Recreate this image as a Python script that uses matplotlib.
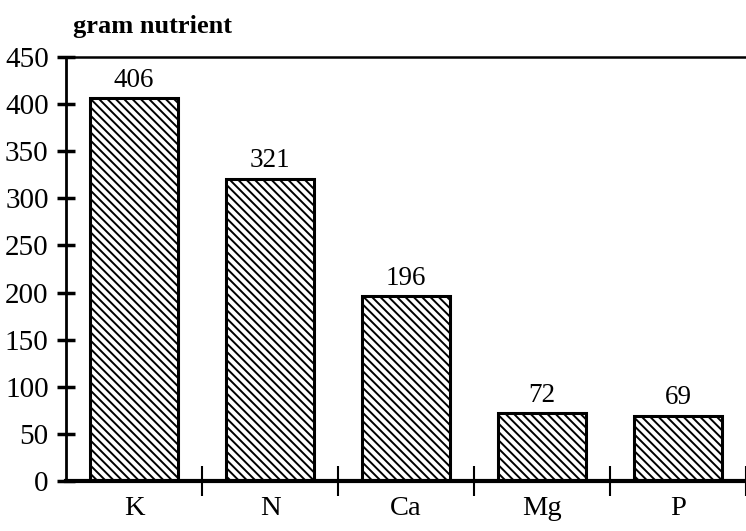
import matplotlib
matplotlib.use("Agg")
import matplotlib.pyplot as plt
import numpy as np

categories = ["K", "N", "Ca", "Mg", "P"]
values = [406, 321, 196, 72, 69]
yticks = [0, 50, 100, 150, 200, 250, 300, 350, 400, 450]
ylabel = "gram nutrient"

plt.rcParams['font.family'] = ['Liberation Serif', 'DejaVu Serif']
plt.rcParams['hatch.linewidth'] = 1.4

W, H = 746, 531
fig = plt.figure(figsize=(W / 100, H / 100), dpi=100)
left, bottom, top = 66 / W, 50 / H, 474 / H
ax = fig.add_axes([left, bottom, 1 - left, top - bottom])

x = np.arange(len(categories))
bars = ax.bar(x, values, width=0.645, facecolor='white', edgecolor='black',
              linewidth=2.2, hatch='\\\\\\\\')

for xi, v in zip(x, values):
    ax.text(xi, v + 6, str(v), ha='center', va='bottom', fontsize=19.5)

ax.set_ylim(0, 450)
ax.set_xlim(-0.5, -0.5 + (W - 66) / 137.0)
ax.set_yticks(yticks)
ax.set_yticklabels([str(t) for t in yticks], fontsize=21)

bounds = np.arange(0.5, len(categories) - 0.5 + 0.01, 1.0)
ax.set_xticks(bounds)
ax.set_xticklabels([])
ax.set_xticks(x, minor=True)
ax.set_xticklabels(categories, minor=True, fontsize=20.5)
ax.tick_params(axis='x', which='major', direction='inout', length=22, width=1.5)
ax.tick_params(axis='x', which='minor', length=0, pad=11)
ax.tick_params(axis='y', direction='inout', length=13, width=2.5, pad=6)

ax.spines['right'].set_visible(False)
ax.spines['left'].set_linewidth(2)
ax.spines['top'].set_linewidth(1.8)
ax.spines['bottom'].set_linewidth(3)
ax.spines['top'].set_bounds(-0.55, 10)

fig.text(73 / W, 1 - 27 / H, ylabel, fontsize=19, fontweight='bold', ha='left', va='center')

fig.savefig("out.png", dpi=100)
